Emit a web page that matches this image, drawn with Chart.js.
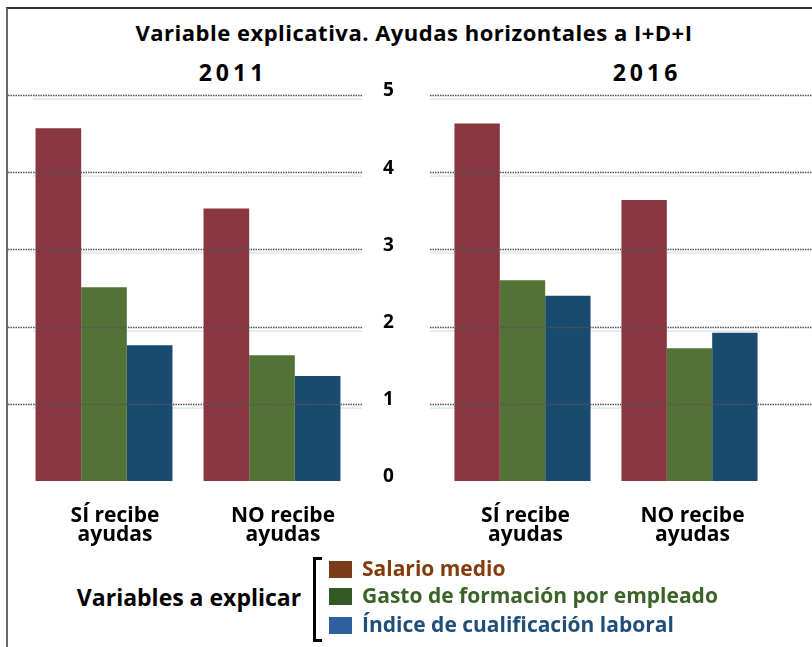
<!DOCTYPE html>
<html>
<head>
<meta charset="utf-8">
<script src="https://cdn.jsdelivr.net/npm/chart.js@4.4.0/dist/chart.umd.min.js"></script>
<style>
  body { margin: 0; background: #fff; }
  #wrap { position: relative; width: 812px; height: 647px; overflow: hidden; font-family: 'Open Sans', sans-serif; color: #000; }
  .frame { position: absolute; left: 6px; top: 7px; width: 820px; height: 660px; border-left: 2px solid #666; border-top: 2px solid #333; }
  .txt { position: absolute; font-weight: 700; white-space: nowrap; transform: translate(-50%, -50%); }
  canvas { position: absolute; top: 0; }
  .bracket { position: absolute; left: 313px; top: 557px; width: 6px; height: 79px; border: 3px solid #000; border-right: none; }
  .item { position: absolute; left: 329px; font-weight: 700; font-size: 21px; white-space: nowrap; line-height: 1; }
  .item span.box { position: absolute; left: 0; top: 0; width: 23px; height: 17px; }
  .item span.lbl { position: absolute; left: 33px; top: -3px; }
</style>
</head>
<body>
<div id="wrap">
  <div class="frame"></div>
  <div class="txt" style="left:414px;top:32px;font-size:22px;letter-spacing:0.5px;">Variable explicativa. Ayudas horizontales a I+D+I</div>
  <div class="txt" style="left:233px;top:72px;font-size:23px;letter-spacing:4px;">2011</div>
  <div class="txt" style="left:647px;top:72px;font-size:23px;letter-spacing:4px;">2016</div>
  <canvas id="chart2011" width="410" height="560" style="left:0"></canvas>
  <canvas id="chart2016" width="402" height="560" style="left:410px"></canvas>
  <div class="txt" style="left:189px;top:597px;font-size:23px;">Variables a explicar</div>
  <div class="bracket"></div>
  <div id="legendItems"></div>
</div>
<script>
// --- data ---
const categories = [['SÍ recibe', 'ayudas'], ['NO recibe', 'ayudas']];
const seriesNames = ['Salario medio', 'Gasto de formación por empleado', 'Índice de cualificación laboral'];

const salario2011 = [4.57, 3.53];
const gasto2011 = [2.51, 1.63];
const indice2011 = [1.76, 1.36];

const salario2016 = [4.63, 3.64];
const gasto2016 = [2.60, 1.72];
const indice2016 = [2.40, 1.92];

const yTicks = [0, 1, 2, 3, 4, 5];

const barColors = ['#893640', '#527335', '#194a70'];
const legendBoxColors = ['#7b3a18', '#335a26', '#2e5f9f'];
const legendTextColors = ['#843c0c', '#3b6327', '#1f4e79'];

// dotted gridlines drawn over the bars, faint lines under them
const panelGrid = {
  id: 'panelGrid',
  beforeDatasetsDraw(chart, args, opts) {
    const ctx = chart.ctx, y = chart.scales.y;
    ctx.save();
    ctx.strokeStyle = '#e2eef2';
    ctx.lineWidth = 2;
    y.ticks.forEach(t => {
      if (t.value === 0) return;
      const py = Math.round(y.getPixelForValue(t.value)) + 4;
      ctx.beginPath();
      ctx.moveTo(opts.lightFrom, py);
      ctx.lineTo(opts.lightTo, py);
      ctx.stroke();
    });
    ctx.restore();
  },
  afterDatasetsDraw(chart, args, opts) {
    const ctx = chart.ctx, y = chart.scales.y;
    ctx.save();
    ctx.strokeStyle = '#555';
    ctx.lineWidth = 1.5;
    ctx.setLineDash([1.5, 1]);
    y.ticks.forEach(t => {
      if (t.value === 0) return;
      const py = Math.round(y.getPixelForValue(t.value)) + 0.5;
      ctx.beginPath();
      ctx.moveTo(opts.darkFrom, py);
      ctx.lineTo(opts.darkTo, py);
      ctx.stroke();
    });
    ctx.restore();
  }
};

function makePanel(id, salario, gasto, indice, cfg) {
  const sets = [salario, gasto, indice].map((d, i) => ({
    label: seriesNames[i],
    data: d,
    backgroundColor: barColors[i],
    borderWidth: 0,
    categoryPercentage: 0.815,
    barPercentage: 1.0
  }));
  return new Chart(document.getElementById(id), {
    type: 'bar',
    data: { labels: categories, datasets: sets },
    plugins: [panelGrid],
    options: {
      responsive: false,
      animation: false,
      layout: { padding: cfg.padding },
      plugins: {
        legend: { display: false },
        tooltip: { enabled: false },
        panelGrid: cfg.grid
      },
      scales: {
        x: {
          grid: { display: false },
          border: { display: false },
          afterFit: s => { s.height = 79; },
          ticks: {
            color: '#000',
            font: { family: 'Open Sans', weight: 'bold', size: 21, lineHeight: 0.9 },
            padding: 18,
            labelOffset: cfg.labelOffset,
            maxRotation: 0,
            autoSkip: false
          }
        },
        y: {
          display: cfg.showY,
          position: 'right',
          min: 0,
          max: 5,
          grid: { display: false, drawTicks: false },
          border: { display: false },
          afterFit: s => { s.width = cfg.yWidth; },
          afterBuildTicks: s => { s.ticks = yTicks.map(v => ({ value: v })); },
          ticks: {
            color: '#000',
            font: { family: 'Open Sans', weight: 'bold', size: 19 },
            padding: 27,
            labelOffset: -4
          }
        }
      }
    }
  });
}

makePanel('chart2011', salario2011, gasto2011, indice2011, {
  padding: { top: 95, left: 20, right: 0, bottom: 0 },
  grid: { darkFrom: 8, darkTo: 362, lightFrom: 33, lightTo: 362 },
  labelOffset: 11,
  showY: true,
  yWidth: 54
});
makePanel('chart2016', salario2016, gasto2016, indice2016, {
  padding: { top: 95, left: 29, right: 39, bottom: 0 },
  grid: { darkFrom: 20, darkTo: 402, lightFrom: 20, lightTo: 350 },
  labelOffset: 3,
  showY: false,
  yWidth: 0
});

// --- legend ---
const legendRows = [569, 596, 625];
document.getElementById('legendItems').innerHTML = seriesNames.map((name, i) => `
  <div class="item" style="top:${legendRows[i] - 8}px;">
    <span class="box" style="background:${legendBoxColors[i]}"></span>
    <span class="lbl" style="color:${legendTextColors[i]}">${name}</span>
  </div>`).join('');
</script>
</body>
</html>
